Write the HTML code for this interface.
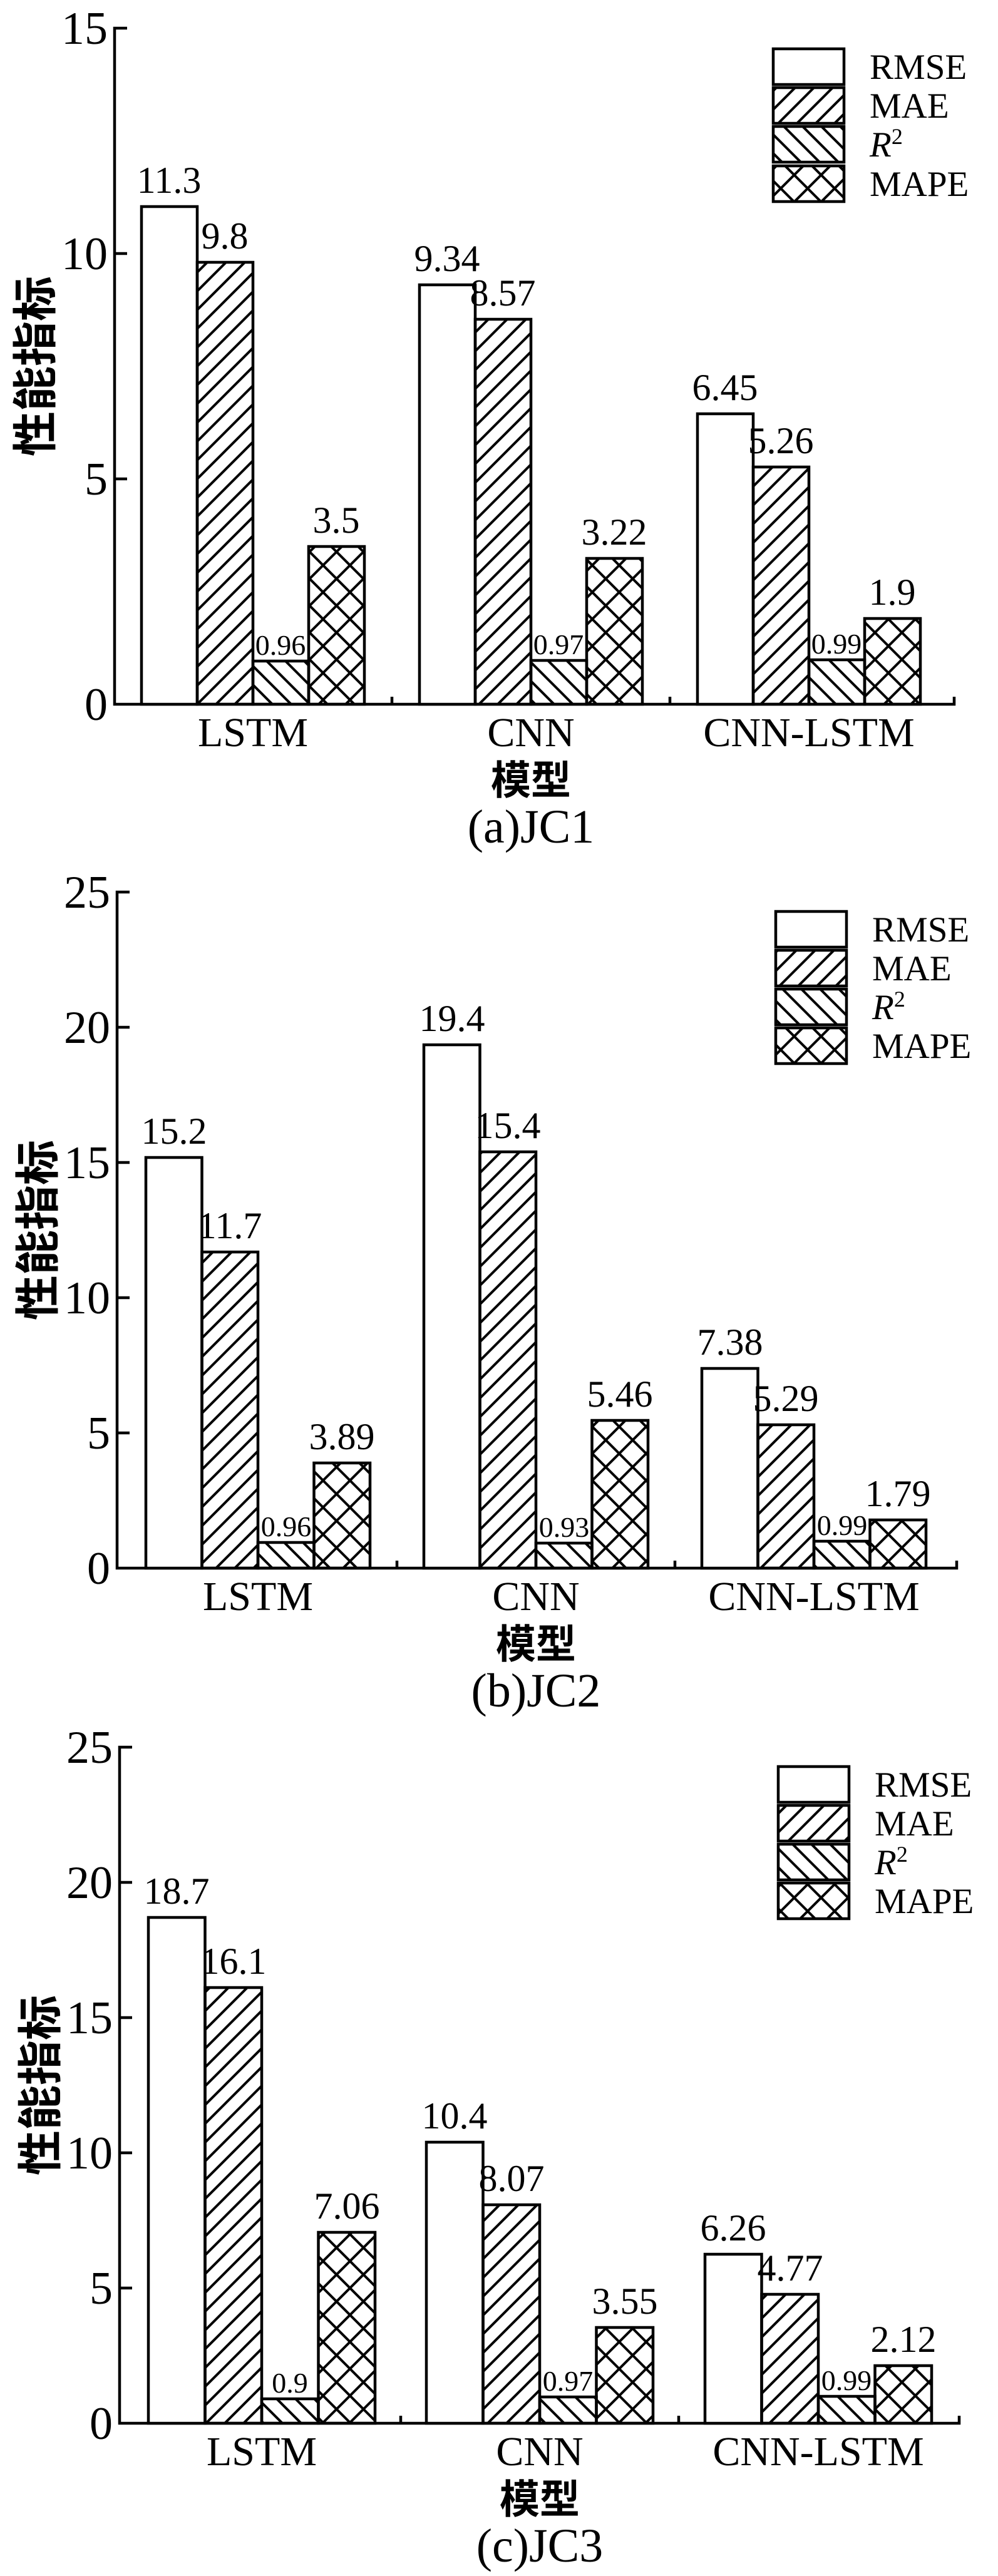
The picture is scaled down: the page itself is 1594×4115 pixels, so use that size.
<!DOCTYPE html>
<html><head><meta charset="utf-8"><style>
html,body{margin:0;padding:0;background:#fff}
svg{display:block}
.t{font-family:"Liberation Serif",serif;fill:#000}
.cj{font-family:"Liberation Sans","Noto Sans CJK SC",sans-serif;font-weight:bold;fill:#000}
</style></head><body>
<svg width="1594" height="4115" viewBox="0 0 1594 4115" xmlns="http://www.w3.org/2000/svg">
<defs>
<pattern id="f" patternUnits="userSpaceOnUse" width="30" height="30">
<path d="M-3,3 L3,-3 M0,30 L30,0 M27,33 L33,27" stroke="#000" stroke-width="4"/></pattern>
<pattern id="b" patternUnits="userSpaceOnUse" width="30" height="30">
<path d="M-3,27 L3,33 M0,0 L30,30 M27,-3 L33,3" stroke="#000" stroke-width="4"/></pattern>
<pattern id="x" patternUnits="userSpaceOnUse" width="43" height="43">
<path d="M-4,4 L4,-4 M0,43 L43,0 M39,47 L47,39 M-4,39 L4,47 M0,0 L43,43 M39,-4 L47,4" stroke="#000" stroke-width="4"/></pattern>
</defs>
<g stroke="#000" stroke-width="4.5" fill="none">
<!-- Chart A -->
<path d="M203,45 H183 V1125 H1524 V1113 M183,765 H203 M183,405 H203 M626,1125 V1113 M1070,1125 V1113"/>
<rect x="226" y="330" width="89" height="795" fill="#fff"/>
<rect x="315" y="419" width="89" height="706" fill="url(#f)"/>
<rect x="404" y="1056" width="89" height="69" fill="url(#b)"/>
<rect x="493" y="873" width="89" height="252" fill="url(#x)"/>
<rect x="670" y="455" width="89" height="670" fill="#fff"/>
<rect x="759" y="510" width="89" height="615" fill="url(#f)"/>
<rect x="848" y="1055" width="89" height="70" fill="url(#b)"/>
<rect x="937" y="892" width="89" height="233" fill="url(#x)"/>
<rect x="1114" y="661" width="89" height="464" fill="#fff"/>
<rect x="1203" y="746" width="89" height="379" fill="url(#f)"/>
<rect x="1292" y="1054" width="89" height="71" fill="url(#b)"/>
<rect x="1381" y="988" width="89" height="137" fill="url(#x)"/>
<rect x="1235" y="78" width="113" height="57" fill="#fff"/>
<rect x="1235" y="140" width="113" height="57" fill="url(#f)"/>
<rect x="1235" y="202" width="113" height="57" fill="url(#b)"/>
<rect x="1235" y="265" width="113" height="57" fill="url(#x)"/>
<!-- Chart B -->
<path d="M207,1425 H187 V2505 H1528 V2493 M187,2289 H207 M187,2073 H207 M187,1857 H207 M187,1641 H207 M634,2505 V2493 M1078,2505 V2493"/>
<rect x="233" y="1849" width="89.5" height="656" fill="#fff"/>
<rect x="322.5" y="2000" width="89.5" height="505" fill="url(#f)"/>
<rect x="412" y="2464" width="89.5" height="41" fill="url(#b)"/>
<rect x="501.5" y="2337" width="89.5" height="168" fill="url(#x)"/>
<rect x="677" y="1669" width="89.5" height="836" fill="#fff"/>
<rect x="766.5" y="1840" width="89.5" height="665" fill="url(#f)"/>
<rect x="856" y="2465" width="89.5" height="40" fill="url(#b)"/>
<rect x="945.5" y="2269" width="89.5" height="236" fill="url(#x)"/>
<rect x="1121" y="2186" width="89.5" height="319" fill="#fff"/>
<rect x="1210.5" y="2276" width="89.5" height="229" fill="url(#f)"/>
<rect x="1300" y="2462" width="89.5" height="43" fill="url(#b)"/>
<rect x="1389.5" y="2428" width="89.5" height="77" fill="url(#x)"/>
<rect x="1239" y="1456" width="113" height="57" fill="#fff"/>
<rect x="1239" y="1518" width="113" height="57" fill="url(#f)"/>
<rect x="1239" y="1580" width="113" height="57" fill="url(#b)"/>
<rect x="1239" y="1642" width="113" height="57" fill="url(#x)"/>
<!-- Chart C -->
<path d="M211,2791 H191 V3871 H1532 V3859 M191,3655 H211 M191,3439 H211 M191,3223 H211 M191,3007 H211 M640,3871 V3859 M1084,3871 V3859"/>
<rect x="237" y="3063" width="90.5" height="808" fill="#fff"/>
<rect x="327.5" y="3175" width="90.5" height="696" fill="url(#f)"/>
<rect x="418" y="3832" width="90.5" height="39" fill="url(#b)"/>
<rect x="508.5" y="3566" width="90.5" height="305" fill="url(#x)"/>
<rect x="681" y="3422" width="90.5" height="449" fill="#fff"/>
<rect x="771.5" y="3522" width="90.5" height="349" fill="url(#f)"/>
<rect x="862" y="3829" width="90.5" height="42" fill="url(#b)"/>
<rect x="952.5" y="3718" width="90.5" height="153" fill="url(#x)"/>
<rect x="1126" y="3601" width="90.5" height="270" fill="#fff"/>
<rect x="1216.5" y="3665" width="90.5" height="206" fill="url(#f)"/>
<rect x="1307" y="3828" width="90.5" height="43" fill="url(#b)"/>
<rect x="1397.5" y="3779" width="90.5" height="92" fill="url(#x)"/>
<rect x="1243" y="2822" width="113" height="57" fill="#fff"/>
<rect x="1243" y="2884" width="113" height="57" fill="url(#f)"/>
<rect x="1243" y="2946" width="113" height="57" fill="url(#b)"/>
<rect x="1243" y="3008" width="113" height="57" fill="url(#x)"/>
</g>

<g class="t" font-size="74" text-anchor="end">
<text x="172" y="70">15</text><text x="172" y="430">10</text><text x="172" y="790">5</text><text x="172" y="1150">0</text>
<text x="176" y="1450">25</text><text x="176" y="1666">20</text><text x="176" y="1882">15</text><text x="176" y="2098">10</text><text x="176" y="2314">5</text><text x="176" y="2530">0</text>
<text x="180" y="2816">25</text><text x="180" y="3032">20</text><text x="180" y="3248">15</text><text x="180" y="3464">10</text><text x="180" y="3680">5</text><text x="180" y="3896">0</text>
</g>

<g class="t" font-size="60" text-anchor="middle">
<text x="270" y="308">11.3</text><text x="359" y="397">9.8</text><text x="537" y="851">3.5</text>
<text x="714" y="433">9.34</text><text x="803" y="488">8.57</text><text x="981" y="870">3.22</text>
<text x="1158" y="639">6.45</text><text x="1247" y="724">5.26</text><text x="1425" y="966">1.9</text>
<text x="278" y="1827">15.2</text><text x="367" y="1978">11.7</text><text x="546" y="2315">3.89</text>
<text x="722" y="1647">19.4</text><text x="811" y="1818">15.4</text><text x="990" y="2247">5.46</text>
<text x="1166" y="2164">7.38</text><text x="1255" y="2254">5.29</text><text x="1434" y="2406">1.79</text>
<text x="282" y="3041">18.7</text><text x="373" y="3153">16.1</text><text x="554" y="3544">7.06</text>
<text x="726" y="3400">10.4</text><text x="817" y="3500">8.07</text><text x="998" y="3696">3.55</text>
<text x="1171" y="3579">6.26</text><text x="1262" y="3643">4.77</text><text x="1443" y="3757">2.12</text>
</g>
<g class="t" font-size="46" text-anchor="middle">
<text x="448" y="1046">0.96</text><text x="892" y="1045">0.97</text><text x="1336" y="1044">0.99</text>
<text x="457" y="2454">0.96</text><text x="901" y="2455">0.93</text><text x="1345" y="2452">0.99</text>
<text x="463" y="3822">0.9</text><text x="907" y="3819">0.97</text><text x="1352" y="3818">0.99</text>
</g>

<g class="t" font-size="57">
<text x="1389" y="126">RMSE</text><text x="1389" y="188">MAE</text><text x="1389" y="250"><tspan font-style="italic">R</tspan><tspan font-size="36" dy="-20">2</tspan></text><text x="1389" y="313">MAPE</text>
<text x="1393" y="1504">RMSE</text><text x="1393" y="1566">MAE</text><text x="1393" y="1628"><tspan font-style="italic">R</tspan><tspan font-size="36" dy="-20">2</tspan></text><text x="1393" y="1690">MAPE</text>
<text x="1397" y="2870">RMSE</text><text x="1397" y="2932">MAE</text><text x="1397" y="2994"><tspan font-style="italic">R</tspan><tspan font-size="36" dy="-20">2</tspan></text><text x="1397" y="3056">MAPE</text>
</g>

<g class="t" font-size="66" text-anchor="middle">
<text x="404" y="1192">LSTM</text><text x="848" y="1192">CNN</text><text x="1292" y="1192">CNN-LSTM</text>
<text x="412" y="2572">LSTM</text><text x="856" y="2572">CNN</text><text x="1300" y="2572">CNN-LSTM</text>
<text x="418" y="3938">LSTM</text><text x="862" y="3938">CNN</text><text x="1307" y="3938">CNN-LSTM</text>
</g>
<g class="t" font-size="76" text-anchor="middle">
<text x="848" y="1346">(a)JC1</text>
<text x="856" y="2726">(b)JC2</text>
<text x="862" y="4092">(c)JC3</text>
</g>
<g class="cj" font-size="64" text-anchor="middle" dominant-baseline="central">
<text x="848" y="1247">模型</text>
<text x="856" y="2627">模型</text>
<text x="862" y="3993">模型</text>
</g>
<g class="cj" font-size="72" text-anchor="middle" dominant-baseline="central">
<text transform="translate(58,585) rotate(-90)">性能指标</text>
<text transform="translate(62,1965) rotate(-90)">性能指标</text>
<text transform="translate(66,3331) rotate(-90)">性能指标</text>
</g>
</svg>
</body></html>
